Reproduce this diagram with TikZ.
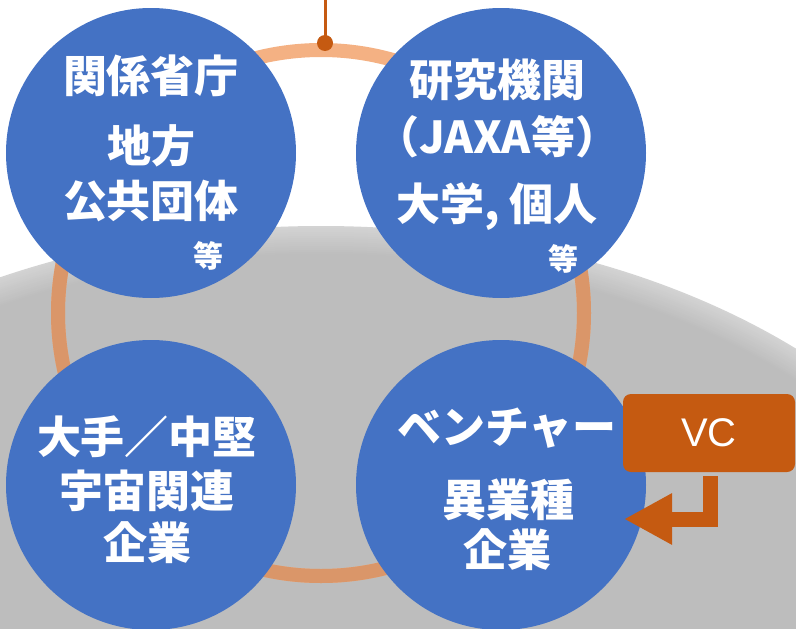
\documentclass[tikz,border=0pt]{standalone}
\usepackage{fontspec}
\newfontfamily\cjk{Noto Sans CJK JP}
\newfontfamily\arialf{Liberation Sans}
\usetikzlibrary{arrows.meta}
\definecolor{bubble}{HTML}{4472C4}
\definecolor{vcor}{HTML}{C55A11}
\definecolor{ringlight}{HTML}{F4B183}
\definecolor{ringdark}{HTML}{DA9669}
\definecolor{domerim}{HTML}{D3D3D3}
\definecolor{domein}{HTML}{BDBDBD}
\tikzset{
  bub/.style={circle, fill=bubble, draw=none, minimum size=290pt, inner sep=0pt},
  big/.style={text=white, inner sep=0pt, font=\cjk\bfseries\fontsize{44pt}{48pt}\selectfont},
  small/.style={text=white, inner sep=0pt, font=\cjk\bfseries\fontsize{30pt}{32pt}\selectfont},
  vcbox/.style={fill=vcor, draw=none, rounded corners=8pt, minimum width=172pt, minimum height=78pt, inner sep=0pt, text=white, font=\arialf\fontsize{40pt}{44pt}\selectfont},
}
\begin{document}
\begin{tikzpicture}[x=1pt, y=-1pt]
\useasboundingbox (0,0) rectangle (796,629);
\clip (0,0) rectangle (796,629);
% dome
\foreach \i in {0,...,14} {
  \pgfmathsetmacro\p{100*\i/14}
  \fill[domein!\p!domerim] (321,688) ellipse [x radius={700-2*\i}, y radius={462-2*\i}];
}
% ring
\draw[ringlight, line width=14pt] (321,313) circle [radius=263];
\begin{scope}
  \clip (321,688) ellipse [x radius=700, y radius=462];
  \draw[ringdark, line width=14pt] (321,313) circle [radius=263];
\end{scope}
% top line and dot
\coordinate (topend) at (325,0);
\node[circle, fill=vcor, minimum size=16pt, inner sep=0pt] (dot) at (325,43) {};
\draw[vcor, line width=3pt] (topend) -- (dot.center);
% bubbles
\node[bub] (tl) at (151,153) {};
\node[bub] (tr) at (501,153) {};
\node[bub] (bl) at (151,485) {};
\node[bub] (br) at (501,485) {};
% texts
\node[big] (tl1) at (151,76) {関係省庁};
\node[big] (tl2) at (151,146) {地方};
\node[big] (tl3) at (151,201) {公共団体};
\node[small] (tl4) at (208,256) {等};
\node[big] (tr1) at (497,80) {研究機関};
\node[big] (tr2) at (497,137) {（JAXA等）};
\node[big] (tr3) at (497,207) {大学, 個人};
\node[small] (tr4) at (563,259) {等};
\node[big] (bl1) at (147,437) {大手／中堅};
\node[big] (bl2) at (147,491) {宇宙関連};
\node[big] (bl3) at (147,543) {企業};
\node[big] (br1) at (507,428) {ベンチャー};
\node[big] (br2) at (508,500) {異業種};
\node[big] (br3) at (507,550) {企業};
% VC
\node[vcbox] (vc) at (709,433) {VC};
\coordinate (tip) at (624,519);
\draw[vcor, line width=15pt, -{Triangle[length=48pt,width=48pt]}] ([xshift=1.5pt,yshift=-4pt]vc.south) |- (tip);
\end{tikzpicture}
\end{document}
